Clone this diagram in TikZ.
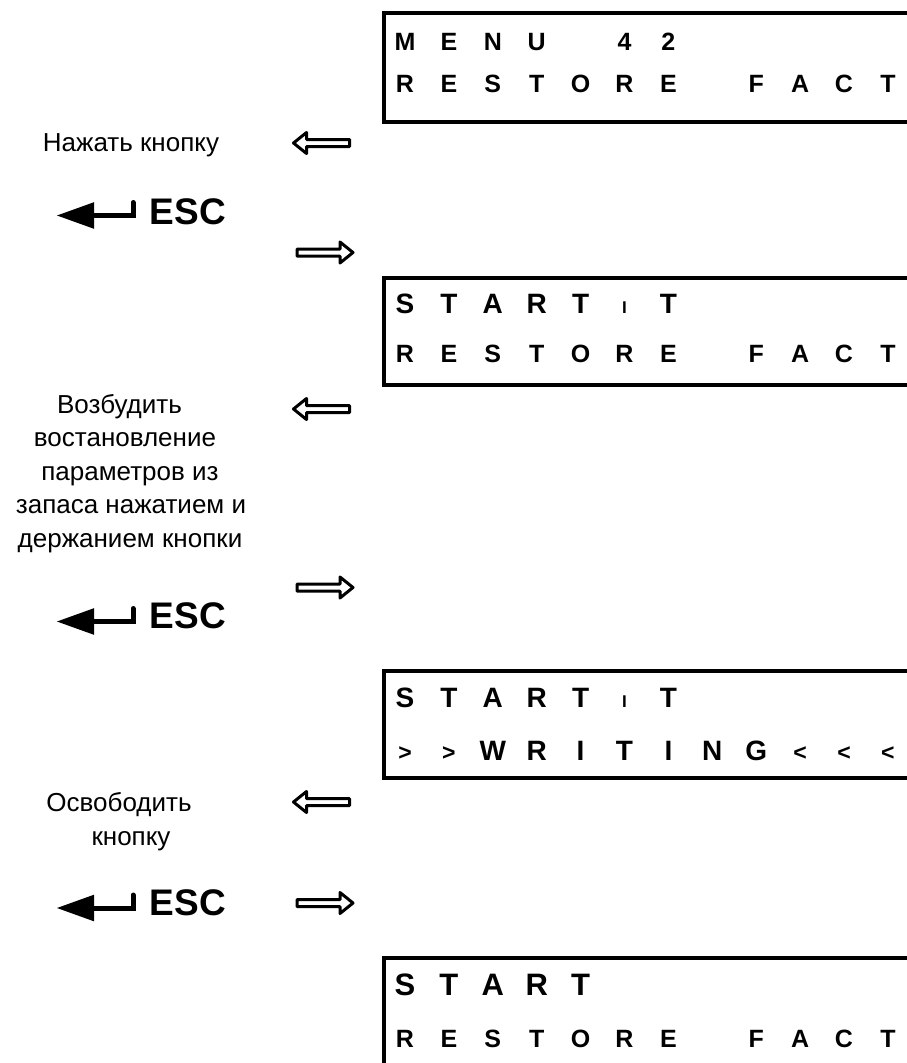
\documentclass[tikz,border=0pt]{standalone}
\usepackage{fontspec}
\setmainfont{Liberation Sans}
\newcommand{\fsz}[1]{\fontsize{#1}{#1}\selectfont}
\newcommand{\smI}{{\fsz{17}I}}
\newcommand{\smG}[1]{{\fsz{23}#1}}
\newcommand{\lcdrow}[4]{%
  \foreach \ch [count=\k from 0] in {#4} {
    \node[lcdchar, font=\bfseries\fsz{#3}] (#1-\k) at ({405+43.9*\k}, #2) {\ch};
  }}
\tikzset{
  lcdchar/.style={anchor=base, inner sep=0pt},
  lcdbox/.style={line width=4pt},
  lbl/.style={anchor=base, inner sep=0pt, font=\fsz{26}},
  esckey/.style={anchor=base west, inner sep=0pt, font=\bfseries\fsz{37}},
  harrow/.pic={
    \draw[line width=3pt, line join=round]
      (-28,-3.5) -- (15,-3.5) -- (15,-10.5) -- (28,0) -- (15,10.5) -- (15,3.5) -- (-28,3.5) -- cycle;
  },
  enterkey/.pic={
    \fill (0,0) -- (37,-13.3) -- (37,13.3) -- cycle;
    \draw[line width=5pt, line cap=round, line join=miter] (34,0) -- (76,0) -- (76,-13);
  }
}
\begin{document}
\begin{tikzpicture}[x=1pt, y=-1pt]
\useasboundingbox (0,0) rectangle (906,1063);
\fill[white] (0,0) rectangle (906,1063);

% LCD boxes
\draw[lcdbox] (920,13) -- (384,13) -- (384,121.5) -- (920,121.5);
\draw[lcdbox] (920,277.5) -- (384,277.5) -- (384,384.5) -- (920,384.5);
\draw[lcdbox] (920,670.5) -- (384,670.5) -- (384,777.5) -- (920,777.5);
\draw[lcdbox] (920,957.5) -- (384,957.5) -- (384,1080);

% LCD texts
\lcdrow{aa}{50}{25}{M,E,N,U,,4,2}
\lcdrow{ab}{92}{25}{R,E,S,T,O,R,E,,F,A,C,T}
\lcdrow{ba}{313}{28}{S,T,A,R,T,\smI,T}
\lcdrow{bb}{362}{25}{R,E,S,T,O,R,E,,F,A,C,T}
\lcdrow{ca}{707}{28}{S,T,A,R,T,\smI,T}
\lcdrow{cb}{760}{28}{\smG{>},\smG{>},W,R,I,T,I,N,G,\smG{<},\smG{<},\smG{<}}
\lcdrow{da}{995}{31}{S,T,A,R,T}
\lcdrow{db}{1047}{25}{R,E,S,T,O,R,E,,F,A,C,T}

% left labels
\node[lbl] (l1) at (131,151) {Нажать кнопку};
\node[lbl] (l2a) at (119.5,413) {Возбудить};
\node[lbl] (l2b) at (125,446.5) {востановление};
\node[lbl] (l2c) at (130,480) {параметров из};
\node[lbl] (l2d) at (131,513.5) {запаса нажатием и};
\node[lbl] (l2e) at (130,547) {держанием кнопки};
\node[lbl] (l3a) at (119,811) {Освободить};
\node[lbl] (l3b) at (131,845) {кнопку};

% ESC keys
\pic at (57,215.5) {enterkey};
\node[esckey] (esc1) at (149.5,224) {ESC};
\pic at (57,621.5) {enterkey};
\node[esckey] (esc2) at (149.5,628) {ESC};
\pic at (57,908) {enterkey};
\node[esckey] (esc3) at (149.5,915) {ESC};

% hollow arrows
\pic[xscale=-1] at (321.5,143) {harrow};
\pic at (325,252.5) {harrow};
\pic[xscale=-1] at (321.5,409) {harrow};
\pic at (325,587.5) {harrow};
\pic[xscale=-1] at (321.5,802) {harrow};
\pic at (325,903) {harrow};
\end{tikzpicture}
\end{document}
